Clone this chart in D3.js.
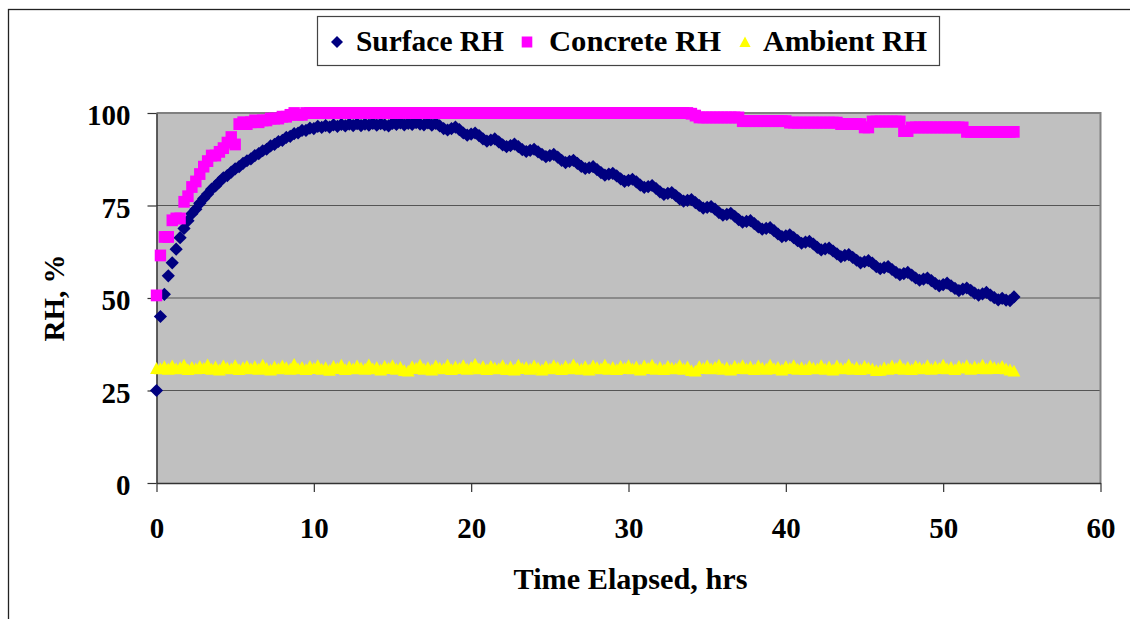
<!DOCTYPE html>
<html><head><meta charset="utf-8">
<script src="https://cdn.jsdelivr.net/npm/d3@7"></script>
<style>html,body{margin:0;padding:0;background:#fff;} svg{display:block;}</style>
</head><body>
<svg id="chart" width="1130" height="619"></svg>
<script>
const hours = [
0,0.25,0.5,0.75,1,1.25,1.5,1.75,2,2.25,2.5,2.75,3,3.25,3.5,3.75,4,4.25,4.5,4.75,
5,5.25,5.5,5.75,6,6.25,6.5,6.75,7,7.25,7.5,7.75,8,8.25,8.5,8.75,9,9.25,9.5,9.75,
10,10.25,10.5,10.75,11,11.25,11.5,11.75,12,12.25,12.5,12.75,13,13.25,13.5,13.75,14,14.25,14.5,14.75,
15,15.25,15.5,15.75,16,16.25,16.5,16.75,17,17.25,17.5,17.75,18,18.25,18.5,18.75,19,19.25,19.5,19.75,
20,20.25,20.5,20.75,21,21.25,21.5,21.75,22,22.25,22.5,22.75,23,23.25,23.5,23.75,24,24.25,24.5,24.75,
25,25.25,25.5,25.75,26,26.25,26.5,26.75,27,27.25,27.5,27.75,28,28.25,28.5,28.75,29,29.25,29.5,29.75,
30,30.25,30.5,30.75,31,31.25,31.5,31.75,32,32.25,32.5,32.75,33,33.25,33.5,33.75,34,34.25,34.5,34.75,
35,35.25,35.5,35.75,36,36.25,36.5,36.75,37,37.25,37.5,37.75,38,38.25,38.5,38.75,39,39.25,39.5,39.75,
40,40.25,40.5,40.75,41,41.25,41.5,41.75,42,42.25,42.5,42.75,43,43.25,43.5,43.75,44,44.25,44.5,44.75,
45,45.25,45.5,45.75,46,46.25,46.5,46.75,47,47.25,47.5,47.75,48,48.25,48.5,48.75,49,49.25,49.5,49.75,
50,50.25,50.5,50.75,51,51.25,51.5,51.75,52,52.25,52.5,52.75,53,53.25,53.5,53.75,54,54.25,54.5
];

const surfaceRH = [
25.0,45.0,51.0,56.0,59.5,63.2,66.3,68.8,70.9,72.8,74.0,75.6,76.9,78.1,79.4,80.3,81.4,82.5,83.1,84.0,
84.9,85.5,86.4,87.1,87.6,88.5,89.0,89.8,90.2,91.1,91.5,92.3,92.6,93.4,93.7,94.4,94.6,95.3,95.3,95.9,
95.8,96.4,96.1,96.6,96.2,96.8,96.4,96.9,96.5,97.0,96.6,97.1,96.6,97.0,96.7,97.2,96.7,97.1,96.8,96.5,
97.2,96.9,97.3,96.8,97.2,96.9,97.4,97.0,96.8,97.3,96.7,
97.2,96.5,95.8,95.4,95.8, 96.2,95.5,94.6,94.0,94.3, 94.6,93.9,93.0,92.4,92.7, 93.0,92.2,91.4,90.9,91.2,
91.6,90.9,90.1,89.6,89.9, 90.2,89.5,88.8,88.2,88.5, 88.8,88.1,87.2,86.6,86.9, 87.2,86.4,85.6,85.0,85.2,
85.5,84.7,83.9,83.2,83.5, 83.7,83.0,82.2,81.5,81.8, 82.1,81.4,80.5,79.9,80.1, 80.4,79.6,78.7,78.0,78.3,
78.5,77.7,76.8,76.2,76.4, 76.6,75.8,75.0,74.3,74.5, 74.7,74.0,73.1,72.4,72.6, 72.9,72.1,71.2,70.5,70.7,
70.9,70.1,69.2,68.6,68.8, 69.0,68.2,67.3,66.6,66.8, 67.1,66.3,65.5,64.8,65.1, 65.3,64.6,63.7,63.0,63.3,
63.5,62.7,61.9,61.2,61.5, 61.7,61.0,60.2,59.5,59.8, 60.1,59.4,58.5,57.9,58.2, 58.5,57.7,56.9,56.3,56.6,
56.9,56.2,55.4,54.8,55.1, 55.4,54.7,53.9,53.3,53.6, 54.0,53.3,52.6,52.0,52.4, 52.7,52.1,51.3,50.8,51.1,
51.5,50.8,50.1,49.5,49.9, 49.4,49.3,50.3
];

const concreteRH = [
50.7,61.5,66.5,66.5,71.0,71.5,71.5,76.0,77.5,80.0,81.5,83.5,85.5,87.0,88.5,88.5,89.5,90.5,92.0,93.5,
91.5,97.0,97.5,97.0,97.5,98.0,97.5,98.0,98.0,98.5,98.5,98.5,99.0,99.0,99.5,100.0,99.5,99.5,
100,100,100,100,100,100,100,100,100,100,
100,100,100,100,100,100,100,100,100,100,
100,100,100,100,100,100,100,100,100,100,
100,100,100,100,100,100,100,100,100,100,
100,100,100,100,100,100,100,100,100,100,
100,100,100,100,100,100,100,100,100,100,
100,100,100,100,100,100,100,100,100,100,
100,100,100,100,100,100,100,100,100,100,
100,100,100,100,100,100,100,100,100,100,
100,100,100,100,100,100,100,100,
99.8,99.3,
98.8,98.8,98.8,98.8,98.8,98.8,98.8,98.8,98.8,98.8,98.8,
97.8,97.8,97.8,97.8,97.8,97.8,97.8,97.8,97.8,97.8,97.8,97.8,
97.4,97.4,97.4,97.4,97.4,97.4,97.4,97.4,97.4,97.4,97.4,97.4,97.4,
97.0,97.0,97.0,97.0,97.0,97.0,
96.1,96.1,
97.7,97.7,97.7,97.7,97.7,97.7,97.7,97.7,
95.1,95.1,
96.1,96.1,96.1,96.1,96.1,96.1,96.1,96.1,96.1,96.1,96.1,96.1,96.1,96.1,
94.9,94.9,94.9,94.9,94.9,94.9,94.9,94.9,94.9,94.9,94.9,94.9,94.9
];

const ambientRH = [
31.0,30.9,31.5,30.8,31.7,30.9,31.2,31.9,30.7,31.3,30.9,31.6,31.0,32.0,30.8,31.4,30.6,31.7,31.1,30.9,
31.8,30.7,31.2,31.6,30.9,31.5,30.8,31.9,31.0,30.6,31.4,30.9,31.7,31.2,30.8,32.1,30.9,31.3,30.7,31.6,
31.0,31.8,30.8,31.2,30.5,31.6,31.0,31.9,30.7,31.4,30.9,31.7,31.1,30.8,32.0,30.9,31.3,30.6,31.6,31.0,
31.8,30.8,31.3,30.4,30.3,31.5,31.0,31.9,30.8,31.2,30.6,31.7,31.1,30.9,31.9,30.7,31.4,31.0,31.8,30.8,
31.3,32.1,30.9,31.5,30.7,31.6,31.1,30.9,31.8,30.7,31.4,30.6,31.9,31.0,31.3,30.8,31.7,31.1,30.6,31.5,
30.9,31.8,31.2,30.7,31.6,30.9,32.0,31.0,30.8,31.5,30.6,31.7,31.2,30.9,31.9,30.8,31.3,30.7,31.6,31.0,
31.8,30.9,31.4,30.6,31.7,31.0,31.9,30.8,31.3,30.7,31.6,31.1,30.9,31.8,30.8,31.4,30.4,30.3,31.5,31.0,
31.7,30.9,31.3,31.9,30.8,31.2,30.6,31.6,31.0,31.8,30.9,31.4,30.7,31.7,31.1,30.8,31.9,30.9,31.3,30.6,
31.5,31.0,31.8,30.8,31.2,30.7,31.6,31.1,30.9,31.8,30.8,31.4,30.6,31.7,31.0,30.9,32.0,30.8,31.3,30.7,
31.6,31.1,30.9,30.4,30.5,31.2,30.8,31.7,31.0,31.9,30.8,31.3,30.7,31.6,31.2,30.9,31.8,30.8,31.4,31.0,
31.9,30.9,31.3,30.7,31.6,31.1,31.8,30.8,31.4,31.0,31.9,30.9,31.7,31.2,31.0,31.6,30.9,30.6,30.3
];

const xTicks = [0, 10, 20, 30, 40, 50, 60];
const yTicks = [0, 25, 50, 75, 100];
const gridValues = [25, 50, 75];
const seriesNames = ["Surface RH", "Concrete RH", "Ambient RH"];
const seriesColors = ["#000080", "#FF00FF", "#FFFF00"];
const xTitle = "Time Elapsed, hrs";
const yTitle = "RH, %";

const FONT = "'Liberation Serif','Times New Roman',serif";
const svg = d3.select("#chart");

// outer chart frame (extends past right/bottom of the picture)
svg.append("rect").attr("x", 8.5).attr("y", 9.5).attr("width", 1400).attr("height", 800)
  .attr("fill", "#fff").attr("stroke", "#222").attr("stroke-width", 1.3);

const L = 156.5, R = 1100.5, T = 113, B = 483;
const x = d3.scaleLinear().domain([0, 60]).range([L, R]);
const y = d3.scaleLinear().domain([0, 100]).range([B, T]);

// plot area
svg.append("rect").attr("x", L).attr("y", T).attr("width", R - L).attr("height", B - T)
  .attr("fill", "#C0C0C0");
svg.append("g").selectAll("line").data(gridValues).join("line")
  .attr("x1", L).attr("x2", R).attr("y1", d => y(d)).attr("y2", d => y(d))
  .attr("stroke", "#555").attr("stroke-width", 1.2);
svg.append("path").attr("d", `M${L},${T}H${R}V${B}`).attr("fill", "none")
  .attr("stroke", "#808080").attr("stroke-width", 2);

// axes
const yAxis = svg.append("g").attr("transform", `translate(${L},0)`)
  .call(d3.axisLeft(y).tickValues(yTicks).tickSize(9).tickSizeOuter(0).tickPadding(17));
const xAxis = svg.append("g").attr("transform", `translate(0,${B})`)
  .call(d3.axisBottom(x).tickValues(xTicks).tickSize(9).tickSizeOuter(0).tickPadding(25));
[yAxis, xAxis].forEach(g => {
  g.select(".domain").attr("stroke", "#333").attr("stroke-width", 1.5);
  g.selectAll(".tick line").attr("stroke", "#333").attr("stroke-width", 1.2);
  g.selectAll(".tick text").attr("font-family", FONT).attr("font-weight", "bold")
    .attr("font-size", 29).attr("fill", "#000");
});
yAxis.selectAll(".tick text").attr("dy", "0.4em");

// axis titles
svg.append("text").attr("x", (L + R) / 2 + 2).attr("y", 589).attr("text-anchor", "middle")
  .attr("font-family", FONT).attr("font-weight", "bold").attr("font-size", 29)
  .attr("textLength", 234).attr("lengthAdjust", "spacingAndGlyphs").text(xTitle);
svg.append("text").attr("transform", `translate(64,${(T + B) / 2}) rotate(-90)`)
  .attr("text-anchor", "middle")
  .attr("font-family", FONT).attr("font-weight", "bold").attr("font-size", 29)
  .text(yTitle);

// marker shapes
const shapes = [
  "M0,-6.6L6.6,0L0,6.6L-6.6,0Z",
  "M-5.7,-5.9H5.7V5.9H-5.7Z",
  "M0,-6.2L6.4,5.6L-6.4,5.6Z"
];
const seriesData = [surfaceRH, concreteRH, ambientRH];
seriesData.forEach((vals, s) => {
  svg.append("g").selectAll("path").data(vals).join("path")
    .attr("transform", (d, i) => `translate(${x(hours[i])},${y(d)})`)
    .attr("d", shapes[s]).attr("fill", seriesColors[s]);
});

// legend
const legendShapes = [
  "M0,-6L6,0L0,6L-6,0Z",
  "M-5.3,-5.5H5.3V5.5H-5.3Z",
  "M0,-5.5L5.6,5L-5.6,5Z"
];
const lg = svg.append("g");
lg.append("rect").attr("x", 317.5).attr("y", 16.5).attr("width", 622).attr("height", 49)
  .attr("fill", "#fff").attr("stroke", "#444").attr("stroke-width", 1.2);
const legendMarkX = [337, 527, 745];
const legendTextX = [356, 549, 763];
const legendTextW = [148, 172, 164];
seriesNames.forEach((name, s) => {
  lg.append("path").attr("transform", `translate(${legendMarkX[s]},42)`)
    .attr("d", legendShapes[s]).attr("fill", seriesColors[s]);
  lg.append("text").attr("x", legendTextX[s]).attr("y", 51)
    .attr("font-family", FONT).attr("font-weight", "bold").attr("font-size", 29)
    .attr("textLength", legendTextW[s]).attr("lengthAdjust", "spacingAndGlyphs")
    .text(name);
});
</script>
</body></html>
